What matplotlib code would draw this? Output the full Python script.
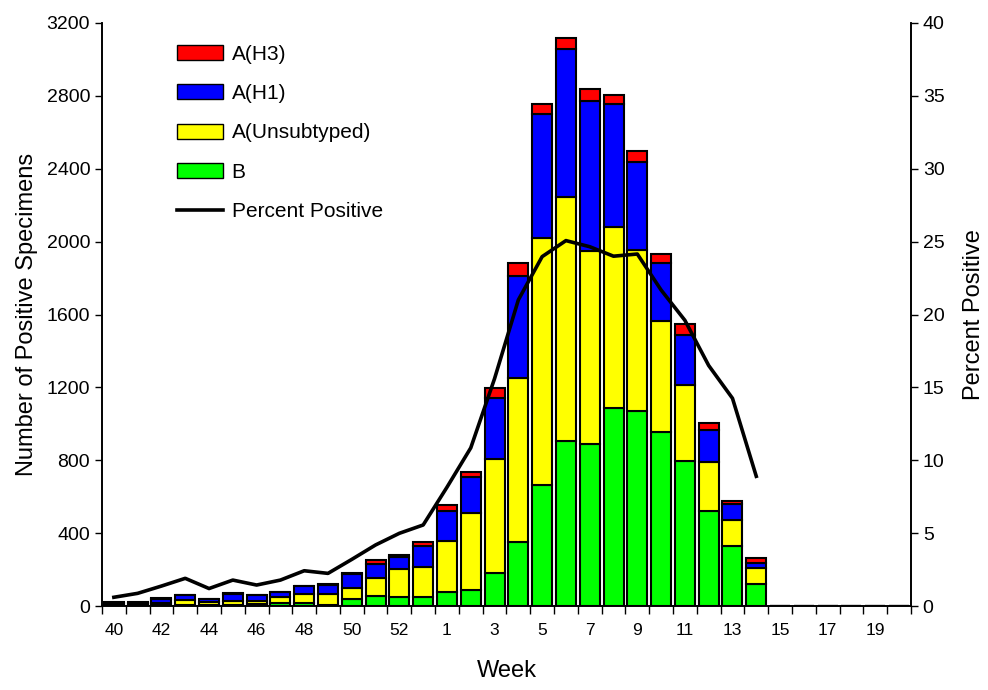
import numpy as np
import matplotlib
matplotlib.use("Agg")
import matplotlib.pyplot as plt
from matplotlib.patches import Patch
from matplotlib.lines import Line2D

plt.rcParams['font.family'] = ['Liberation Sans', 'DejaVu Sans']

# surveillance weeks 40-53 then 1-20
weeks = list(range(40, 54)) + list(range(1, 21))

# positive specimens by type (weeks 15-20 have no data)
flu_b = [3, 3, 5, 5, 3, 8, 12, 16, 18, 8, 38, 55, 51, 51,
         79, 88, 179, 350, 664, 907, 887, 1088, 1072, 957, 797, 523, 330, 119,
         0, 0, 0, 0, 0, 0]
a_unsub = [5, 5, 12, 28, 21, 19, 17, 32, 50, 58, 59, 100, 150, 165,
           280, 424, 628, 903, 1357, 1336, 1063, 994, 882, 609, 416, 266, 142, 90,
           0, 0, 0, 0, 0, 0]
a_h1 = [10, 10, 20, 26, 14, 41, 29, 29, 40, 52, 77, 75, 66, 113,
        164, 194, 333, 557, 679, 814, 823, 671, 481, 315, 273, 177, 90, 29,
        0, 0, 0, 0, 0, 0]
a_h3 = [2, 2, 5, 4, 2, 2, 2, 2, 3, 3, 5, 22, 13, 24,
        31, 31, 55, 72, 53, 62, 63, 52, 64, 51, 62, 37, 14, 24,
        0, 0, 0, 0, 0, 0]

# percent positive, weeks 40 to 14
pct_positive = [0.6, 0.87, 1.37, 1.9, 1.2, 1.78, 1.44, 1.78, 2.42, 2.24, 3.2, 4.19, 4.99, 5.56,
                8.15, 10.85, 15.6, 21.0, 23.97, 25.07, 24.65, 24.0, 24.15, 21.68, 19.6, 16.5, 14.25, 8.9]

fig = plt.figure(figsize=(9.88, 6.9), dpi=100)
ax = fig.add_axes([0.1032, 0.1217, 0.8188, 0.845])
ax2 = ax.twinx()

x = np.arange(len(weeks))
b = np.array(flu_b)
u = np.array(a_unsub)
h1 = np.array(a_h1)
h3 = np.array(a_h3)

bar_kw = dict(width=0.84, edgecolor='black', linewidth=1.5)
ax.bar(x, b, color='#00FF00', **bar_kw)
ax.bar(x, u, bottom=b, color='#FFFF00', **bar_kw)
ax.bar(x, h1, bottom=b + u, color='#0000FF', **bar_kw)
ax.bar(x, h3, bottom=b + u + h1, color='#FF0000', **bar_kw)

ax2.plot(x[:len(pct_positive)], pct_positive, color='black', linewidth=2.6, zorder=5)

# left axis
ax.set_xlim(-0.5, len(weeks) - 0.5)
ax.set_ylim(0, 3200)
ax.set_yticks(range(0, 3201, 400))
ax.tick_params(axis='y', labelsize=14, direction='out', length=5, width=1)
ax.set_ylabel('Number of Positive Specimens', fontsize=17, labelpad=6)

# x ticks at bar edges, labels centered on bars
ax.set_xticks(np.arange(-0.5, len(weeks), 1.0))
ax.set_xticklabels([])
ax.tick_params(axis='x', which='major', direction='out', length=6, width=1)
lab_pos = [i for i in range(len(weeks)) if i % 2 == 0]
ax.set_xticks(lab_pos, minor=True)
ax.set_xticklabels([str(weeks[i]) for i in lab_pos], minor=True)
ax.tick_params(axis='x', which='minor', length=0, labelsize=12.5, pad=12)
ax.set_xlabel('Week', fontsize=17, labelpad=16)

# right axis
ax2.set_ylim(0, 40)
ax2.set_yticks(range(0, 41, 5))
ax2.tick_params(axis='y', labelsize=14, direction='out', length=5, width=1)
ax2.set_ylabel('Percent Positive', fontsize=17, labelpad=13)

for a in (ax, ax2):
    a.spines['top'].set_visible(False)
    for s in a.spines.values():
        s.set_linewidth(1.2)

handles = [Patch(facecolor='#FF0000', edgecolor='black', label='A(H3)'),
           Patch(facecolor='#0000FF', edgecolor='black', label='A(H1)'),
           Patch(facecolor='#FFFF00', edgecolor='black', label='A(Unsubtyped)'),
           Patch(facecolor='#00FF00', edgecolor='black', label='B'),
           Line2D([0], [0], color='black', linewidth=2.6, label='Percent Positive')]
ax2.legend(handles=handles, loc='upper left', bbox_to_anchor=(0.07, 0.995), frameon=False,
           fontsize=15, labelspacing=0.98, handlelength=2.2, handleheight=0.75, handletextpad=0.4)

fig.savefig('out.png', dpi=100)
